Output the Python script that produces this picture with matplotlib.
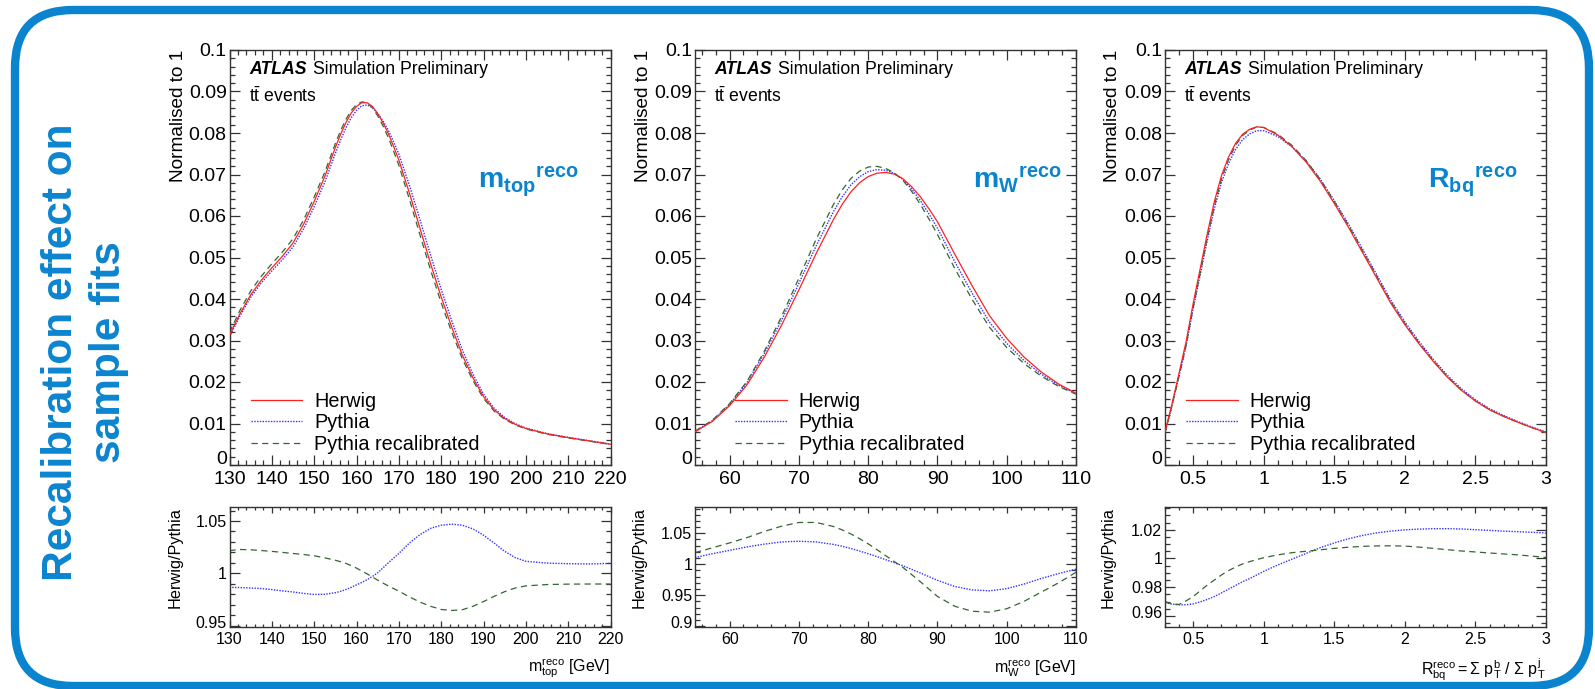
import numpy as np
import matplotlib
matplotlib.use("Agg")
import matplotlib.pyplot as plt
from matplotlib.ticker import MultipleLocator, FuncFormatter
from matplotlib.patches import FancyBboxPatch
from matplotlib.transforms import IdentityTransform, ScaledTranslation

plt.rcParams['font.family'] = ['Liberation Sans', 'DejaVu Sans']
plt.rcParams['mathtext.fontset'] = 'custom'
plt.rcParams['mathtext.rm'] = 'Liberation Sans'
plt.rcParams['mathtext.it'] = 'Liberation Sans:italic'
plt.rcParams['mathtext.bf'] = 'Liberation Sans:bold'

# ---------------- data ----------------
# m_top^reco panel
mtop_x = [130, 132.5, 135, 137.5, 140, 142.5, 145, 147.5, 150, 152.5,
          155, 156.25, 157.5, 158.75, 160, 161.25, 162.5, 163.75, 165, 166.25, 167.5, 168.75, 170,
          172.5, 175, 177.5, 180, 182.5, 185, 187.5, 190, 192.5, 195, 197.5,
          200, 205, 210, 215, 220]
mtop_herwig = [0.0313, 0.0365, 0.0410, 0.0445, 0.0475, 0.0503, 0.0535, 0.0580, 0.0635, 0.0695,
               0.0765, 0.0797, 0.0825, 0.0848, 0.0864, 0.0873, 0.0873, 0.0864, 0.0847, 0.0825,
               0.0799, 0.0768, 0.0735,
               0.0655, 0.0570, 0.0485, 0.0405, 0.0332, 0.0265, 0.0210, 0.0165, 0.0133, 0.0112,
               0.0098, 0.0088, 0.0075, 0.0066, 0.0058, 0.0050]
mtop_ratio_pythia = [0.9866, 0.9864, 0.9860, 0.9855, 0.9845, 0.9832, 0.9822, 0.9808, 0.9798, 0.9800,
                     0.9815, 0.9828, 0.9845, 0.9866, 0.9890, 0.9913, 0.9940, 0.9970, 1.0005, 1.0052,
                     1.0100, 1.0145, 1.0190,
                     1.0290, 1.0370, 1.0430, 1.0460, 1.0470, 1.0460, 1.0425, 1.0365, 1.0290, 1.0210,
                     1.0150, 1.0115, 1.0098, 1.0092, 1.0090, 1.0095]
mtop_ratio_recal = [1.0217, 1.0228, 1.0225, 1.0218, 1.0210, 1.0200, 1.0190, 1.0180, 1.0168, 1.0148,
                    1.0125, 1.0111, 1.0095, 1.0074, 1.0050, 1.0023, 0.9995, 0.9965, 0.9935, 0.9907,
                    0.9880, 0.9855, 0.9830,
                    0.9775, 0.9725, 0.9685, 0.9655, 0.9645, 0.9652, 0.9685, 0.9730, 0.9780, 0.9825,
                    0.9860, 0.9880, 0.9893, 0.9897, 0.9898, 0.9898]

# m_W^reco panel
mw_x = [55, 57.5, 60, 62.5, 65, 67.5, 70, 72.5,
        75, 76.25, 77.5, 78.75, 80, 81.25, 82.5, 83.75, 85, 86.25, 87.5, 88.75, 90,
        92.5, 95, 97.5, 100, 102.5, 105, 107.5, 110]
mw_herwig = [0.0080, 0.0105, 0.0143, 0.0193, 0.0260, 0.0337, 0.0422, 0.0510,
             0.0592, 0.0628, 0.0658, 0.0680, 0.0695, 0.0703, 0.0705, 0.0701, 0.0690, 0.0671,
             0.0647, 0.0618, 0.0586,
             0.0508, 0.0432, 0.0360, 0.0305, 0.0260, 0.0224, 0.0195, 0.0173]
mw_ratio_pythia = [1.0108, 1.0170, 1.0225, 1.0280, 1.0325, 1.0360, 1.0372, 1.0360,
                   1.0320, 1.0290, 1.0255, 1.0214, 1.0170, 1.0123, 1.0075, 1.0025, 0.9975, 0.9918,
                   0.9860, 0.9800, 0.9740,
                   0.9640, 0.9585, 0.9570, 0.9605, 0.9680, 0.9770, 0.9850, 0.9920]
mw_ratio_recal = [1.0188, 1.0265, 1.0345, 1.0430, 1.0530, 1.0615, 1.0675, 1.0675,
                  1.0610, 1.0555, 1.0490, 1.0413, 1.0330, 1.0237, 1.0140, 1.0045, 0.9950, 0.9835,
                  0.9720, 0.9600, 0.9480,
                  0.9320, 0.9240, 0.9225, 0.9280, 0.9400, 0.9550, 0.9700, 0.9870]

# R_bq^reco panel
rbq_x = [0.3, 0.35, 0.4, 0.45, 0.5, 0.55, 0.6, 0.65, 0.7, 0.75, 0.8, 0.85, 0.9, 0.95, 1.0,
         1.1, 1.2, 1.3, 1.4, 1.5, 1.6, 1.7, 1.8, 1.9, 2.0, 2.1, 2.2, 2.3, 2.4, 2.5, 2.6,
         2.7, 2.8, 2.9, 3.0]
rbq_herwig = [0.0080, 0.0148, 0.0222, 0.0298, 0.0390, 0.0474, 0.0558, 0.0635, 0.0697, 0.0742,
              0.0775, 0.0797, 0.0809, 0.0815, 0.0813, 0.0795, 0.0767, 0.0730, 0.0684, 0.0630,
              0.0573, 0.0512, 0.0451, 0.0390, 0.0338, 0.0292, 0.0250, 0.0212, 0.0180, 0.0154,
              0.0133, 0.0117, 0.0103, 0.0090, 0.0078]
rbq_ratio_pythia = [0.9693, 0.9682, 0.9677, 0.9678, 0.9684, 0.9698, 0.9715, 0.9735, 0.9760, 0.9786,
                    0.9812, 0.9838, 0.9860, 0.9885, 0.9910, 0.9955, 0.9995, 1.0035, 1.0075, 1.0108,
                    1.0137, 1.0160, 1.0178, 1.0190, 1.0199, 1.0204, 1.0207, 1.0207, 1.0205, 1.0200,
                    1.0195, 1.0190, 1.0186, 1.0182, 1.0177]
rbq_ratio_recal = [0.9700, 0.9682, 0.9680, 0.9705, 0.9735, 0.9775, 0.9815, 0.9850, 0.9885, 0.9915,
                   0.9940, 0.9962, 0.9978, 0.9992, 1.0005, 1.0025, 1.0040, 1.0050, 1.0060, 1.0070,
                   1.0078, 1.0084, 1.0087, 1.0088, 1.0086, 1.0079, 1.0070, 1.0061, 1.0052, 1.0045,
                   1.0038, 1.0031, 1.0025, 1.0016, 1.0007]

series_names = ["Herwig", "Pythia", "Pythia recalibrated"]

# ---------------- style ----------------
W, H = 1595, 689
BLUE = '#0B84CF'
C_HER = '#FF2020'
C_PY = '#3030FF'
C_RC = '#336633'
FRAME = '#333333'

fig = plt.figure(figsize=(W / 100, H / 100), dpi=100)

# rounded border
border = FancyBboxPatch((15, 3), 1574, 676, boxstyle='round,pad=0,rounding_size=58',
                        transform=IdentityTransform(), fill=False, edgecolor=BLUE, linewidth=6.0)
fig.add_artist(border)

fig.text(85 / W, 1 - 352 / H, "Recalibration effect on\nsample fits", rotation=90,
         ha='center', va='center', multialignment='center', fontsize=30.5,
         fontweight='bold', color=BLUE, linespacing=1.27)

fmt = FuncFormatter(lambda v, p: ('%g' % round(v, 6)))


def style_axis(ax, xmaj, xmin, ymaj, ymin, xlen, ylen, lsize, xpad):
    ax.xaxis.set_major_locator(MultipleLocator(xmaj))
    ax.xaxis.set_minor_locator(MultipleLocator(xmin))
    ax.yaxis.set_major_locator(MultipleLocator(ymaj))
    ax.yaxis.set_minor_locator(MultipleLocator(ymin))
    ax.xaxis.set_major_formatter(fmt)
    ax.yaxis.set_major_formatter(fmt)
    ax.tick_params(which='both', direction='in', top=True, right=True, color=FRAME,
                   width=0.9, labelsize=lsize)
    ax.tick_params(axis='x', which='major', length=xlen[0], pad=xpad)
    ax.tick_params(axis='x', which='minor', length=xlen[1])
    ax.tick_params(axis='y', which='major', length=ylen[0], pad=2)
    ax.tick_params(axis='y', which='minor', length=ylen[1])
    for s in ax.spines.values():
        s.set_color(FRAME)
        s.set_linewidth(1.0)


all_axes = []


def panel(left_px, x, herwig, r_py, r_rc, xlim, xmaj, xmin, rlim, rmaj, rmin,
          tag, tag_x, leg_x, xlabel, ylab_x, rylab_x):
    x = np.asarray(x)
    herwig = np.asarray(herwig)
    r_py = np.asarray(r_py)
    r_rc = np.asarray(r_rc)
    pythia = herwig * r_py
    recal = herwig * r_rc

    left = left_px / W
    width = 381 / W
    ax = fig.add_axes([left, 1 - 465 / H, width, 415 / H])
    axr = fig.add_axes([left, 1 - 626.7 / H, width, 120 / H])

    l1, = ax.plot(x, herwig, color=C_HER, lw=0.9, zorder=3)
    l2, = ax.plot(x, pythia, color=C_PY, lw=1.0, ls=(0, (1, 1)), zorder=2)
    l3, = ax.plot(x, recal, color=C_RC, lw=0.9, ls=(0, (5, 3.5)), zorder=2)
    ax.set_xlim(*xlim)
    ax.set_ylim(0, 0.1)
    style_axis(ax, xmaj, xmin, 0.01, 0.002, (7, 3.5), (7, 3.5), 14, 4.5)

    ax.legend([l1, l2, l3], series_names, loc='upper left',
              bbox_to_anchor=(leg_x, 0.176), frameon=False, fontsize=14.3,
              handlelength=2.6, handletextpad=0.6, labelspacing=0.12,
              borderpad=0, borderaxespad=0)

    t1 = ax.text(0.051, 0.952, "ATLAS", transform=ax.transAxes, fontsize=12.7,
                 fontweight='bold', fontstyle='italic', va='center', ha='left')
    ax.annotate("Simulation Preliminary", xy=(1, 0.5), xycoords=t1, xytext=(4.5, 0),
                textcoords='offset points', fontsize=12.7, va='center', ha='left')
    ax.text(0.051, 0.8875, r"$\mathrm{t\bar{t}}$ events", transform=ax.transAxes,
            fontsize=12.7, va='center', ha='left')
    ax.text(tag_x, 0.667, tag, transform=ax.transAxes, fontsize=20.5, color=BLUE,
            va='baseline', ha='left')

    ax.set_ylabel("Normalised to 1", fontsize=13.7, loc='top')
    ax.yaxis.set_label_coords(ylab_x, 1.0)

    axr.plot(x, r_py, color=C_PY, lw=1.0, ls=(0, (1, 1)))
    axr.plot(x, r_rc, color=C_RC, lw=0.9, ls=(0, (5, 3.5)))
    axr.set_xlim(*xlim)
    axr.set_ylim(*rlim)
    style_axis(axr, xmaj, xmin, rmaj, rmin, (4, 2), (7, 3.5), 11.5, 4)
    axr.set_ylabel("Herwig/Pythia", fontsize=11.7, loc='top')
    axr.yaxis.set_label_coords(rylab_x, 1.0)
    axr.set_xlabel(xlabel, fontsize=11.5, loc='right')
    axr.xaxis.set_label_coords(1.0, -0.25)
    axr.xaxis.label.set_va('top')
    all_axes.append((ax, axr))


panel(229.5, mtop_x, mtop_herwig, mtop_ratio_pythia, mtop_ratio_recal, (130, 220), 10, 2,
      (0.949, 1.0637), 0.05, 0.01, r"$\mathbf{m_{top}{}^{reco}}$", 0.652, 0.056,
      r"$\mathrm{m_{top}^{reco}}$ [GeV]", -0.112, -0.124)
panel(695, mw_x, mw_herwig, mw_ratio_pythia, mw_ratio_recal, (55, 110), 10, 2,
      (0.899, 1.093), 0.05, 0.01, r"$\mathbf{m_{W}{}^{reco}}$", 0.73, 0.105,
      r"$\mathrm{m_{W}^{reco}}$ [GeV]", -0.112, -0.127)
panel(1165, rbq_x, rbq_herwig, rbq_ratio_pythia, rbq_ratio_recal, (0.3, 3.0), 0.5, 0.1,
      (0.9525, 1.036), 0.02, 0.005, r"$\mathbf{R_{bq}{}^{reco}}$", 0.69, 0.055,
      r"$\mathrm{R_{bq}^{reco} = \Sigma\ p_{T}^{b}\ /\ \Sigma\ p_{T}^{j}}$", -0.115, -0.129)

# nudge the lowest visible y tick label up a little so it does not sit on the x tick labels
fig.canvas.draw()
for ax, axr in all_axes:
    for a, dy in ((ax, 8), (axr, 4)):
        lo = a.get_ylim()[0]
        visible = [tk for tk in a.yaxis.get_major_ticks() if tk.get_loc() >= lo - 1e-9]
        tk = min(visible, key=lambda t: t.get_loc())
        tk.label1.set_transform(tk.label1.get_transform() +
                                ScaledTranslation(0, dy / 100, fig.dpi_scale_trans))

fig.savefig("out.png", dpi=100)
